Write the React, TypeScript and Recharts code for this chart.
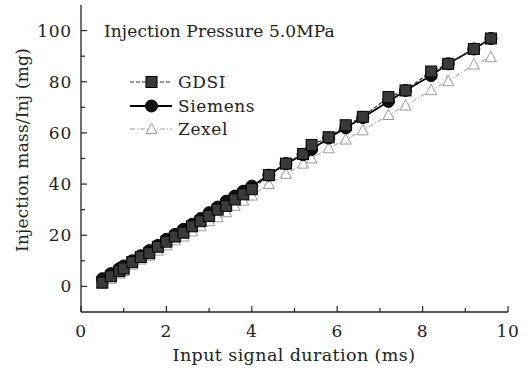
import React from 'react';
import { LineChart, Line, XAxis, YAxis } from 'recharts';

const durations = [0.5, 0.7, 0.9, 1.0, 1.2, 1.4, 1.6, 1.8, 2.0, 2.2, 2.4, 2.6, 2.8, 3.0, 3.2, 3.4, 3.6, 3.8, 4.0, 4.4, 4.8, 5.2, 5.4, 5.8, 6.2, 6.6, 7.2, 7.6, 8.2, 8.6, 9.2, 9.6];
const gdsi = [1.5, 4, 6, 7, 9.5, 11.5, 13, 15.5, 17.5, 19.5, 21, 23.5, 25.5, 27.5, 30, 31.5, 34, 36, 38, 43.5, 48, 51.8, 55.3, 58.3, 63, 66.3, 74, 76.6, 84, 87, 92.8, 96.9];
const siemens = [3, 5, 7, 8, 10, 12, 14, 16, 18.4, 20.3, 22.3, 24.3, 26.5, 28.8, 31, 33.3, 35.3, 37.2, 39.2, 43.5, 48, 51.5, 53.5, 58, 62, 66, 72.3, 76.6, 82.4, 87, 92.8, 96.9];
const zexel = [1, 3, 5, 6, 8.5, 10.5, 12, 14, 16, 18, 19.5, 21.5, 23.5, 25.5, 27, 29, 31.5, 33.5, 35.5, 40, 44, 48, 50, 54, 57.4, 61, 67, 70.7, 76.7, 80.2, 86.7, 89.6];

const xTicks = [0, 1, 2, 3, 4, 5, 6, 7, 8, 9, 10];
const yTicks = [0, 10, 20, 30, 40, 50, 60, 70, 80, 90, 100];
const seriesNames = ['GDSI', 'Siemens', 'Zexel'];

const data = durations.map((d, i) => ({ x: d, gdsi: gdsi[i], siemens: siemens[i], zexel: zexel[i] }));

const FONT = '"DejaVu Serif", serif';
const INK = '#222';

const XTick = (props: any) => {
  const { x, y, payload } = props;
  const v = payload.value;
  const major = v % 2 === 0;
  return (
    <g>
      <line x1={x} y1={y} x2={x} y2={y - (major ? 6 : 4)} stroke={INK} strokeWidth={1.2} />
      {major && (
        <text x={x} y={y + 25} textAnchor="middle" fontFamily={FONT} fontSize={17} letterSpacing={0.8} fill={INK}>
          {v}
        </text>
      )}
    </g>
  );
};

const YTick = (props: any) => {
  const { x, y, payload } = props;
  const v = payload.value;
  const major = v % 20 === 0;
  return (
    <g>
      <line x1={x} y1={y} x2={x + (major ? 6 : 4)} y2={y} stroke={INK} strokeWidth={1.2} />
      {major && (
        <text x={x - 9} y={y + 6} textAnchor="end" fontFamily={FONT} fontSize={17} letterSpacing={0.8} fill={INK}>
          {v}
        </text>
      )}
    </g>
  );
};

const SquareDot = (props: any) => {
  const { cx, cy, index } = props;
  if (cx == null || cy == null) return <g key={index} />;
  return <rect key={index} x={cx - 5.5} y={cy - 5.5} width={11} height={11} fill="#3a3a3a" stroke="#000" strokeWidth={1} />;
};

const TriDot = (props: any) => {
  const { cx, cy, index } = props;
  if (cx == null || cy == null) return <g key={index} />;
  return (
    <polygon
      key={index}
      points={`${cx},${cy - 6} ${cx - 5.5},${cy + 4.5} ${cx + 5.5},${cy + 4.5}`}
      fill="#fff"
      stroke="#9a9a9a"
      strokeWidth={1}
    />
  );
};

const LegendBox = () => (
  <svg width={150} height={80} style={{ position: 'absolute', left: 128, top: 70, overflow: 'visible' }}>
    <g>
      <line x1={2} y1={12} x2={44} y2={12} stroke="#333" strokeWidth={1.2} strokeDasharray="4 2" />
      <rect x={18} y={6.5} width={11} height={11} fill="#3a3a3a" stroke="#000" />
      <text x={50} y={18} fontFamily={FONT} fontSize={17} letterSpacing={0.6} fill={INK}>{seriesNames[0]}</text>
    </g>
    <g>
      <line x1={2} y1={36} x2={44} y2={36} stroke="#000" strokeWidth={1.8} />
      <circle cx={23.5} cy={36} r={6} fill="#111" stroke="#000" />
      <text x={50} y={42} fontFamily={FONT} fontSize={17} letterSpacing={0.6} fill={INK}>{seriesNames[1]}</text>
    </g>
    <g>
      <line x1={2} y1={59} x2={44} y2={59} stroke="#9a9a9a" strokeWidth={1} strokeDasharray="5 2 1 2" />
      <polygon points="23.5,53 18,63.5 29,63.5" fill="#fff" stroke="#9a9a9a" />
      <text x={50} y={65} fontFamily={FONT} fontSize={17} letterSpacing={0.6} fill={INK}>{seriesNames[2]}</text>
    </g>
  </svg>
);

export default function App() {
  return (
    <div style={{ position: 'absolute', left: 0, top: 0, width: 528, height: 370, background: '#fff' }}>
      <LineChart width={528} height={370} data={data} margin={{ top: 5, right: 20, bottom: 0, left: 0 }}>
        <XAxis
          xAxisId="b"
          dataKey="x"
          type="number"
          domain={[0, 10]}
          ticks={xTicks}
          interval={0}
          tickSize={0}
          tickMargin={0}
          tickLine={false}
          tick={<XTick />}
          height={58}
          axisLine={{ stroke: INK, strokeWidth: 1.3 }}
          allowDataOverflow
        />
        <XAxis
          xAxisId="t"
          dataKey="x"
          type="number"
          orientation="top"
          domain={[0, 10]}
          height={0}
          tick={false}
          tickLine={false}
          axisLine={{ stroke: '#555', strokeWidth: 1 }}
        />
        <YAxis
          yAxisId="l"
          type="number"
          domain={[-10, 110]}
          ticks={yTicks}
          interval={0}
          tickSize={0}
          tickMargin={0}
          tickLine={false}
          tick={<YTick />}
          width={81}
          axisLine={{ stroke: INK, strokeWidth: 1.3 }}
          allowDataOverflow
        />
        <YAxis
          yAxisId="r"
          orientation="right"
          type="number"
          domain={[-10, 110]}
          width={0}
          tick={false}
          tickLine={false}
          axisLine={{ stroke: '#444', strokeWidth: 1 }}
        />
        <Line
          xAxisId="b"
          yAxisId="l"
          dataKey="zexel"
          name="Zexel"
          stroke="#9a9a9a"
          strokeWidth={1}
          strokeDasharray="5 2 1 2"
          dot={<TriDot />}
          isAnimationActive={false}
        />
        <Line
          xAxisId="b"
          yAxisId="l"
          dataKey="siemens"
          name="Siemens"
          stroke="#000"
          strokeWidth={1.8}
          dot={{ r: 6, fill: '#111', stroke: '#000', strokeWidth: 1 }}
          isAnimationActive={false}
        />
        <Line
          xAxisId="b"
          yAxisId="l"
          dataKey="gdsi"
          name="GDSI"
          stroke="#333"
          strokeWidth={1.2}
          strokeDasharray="4 2"
          dot={<SquareDot />}
          isAnimationActive={false}
        />
      </LineChart>
      <LegendBox />
      <div style={{ position: 'absolute', left: 104, top: 21, fontFamily: FONT, fontSize: 17, letterSpacing: 0.1, color: INK, whiteSpace: 'nowrap', lineHeight: '20px' }}>
        Injection Pressure 5.0MPa
      </div>
      <div style={{ position: 'absolute', left: 0, width: 588, top: 344, textAlign: 'center', fontFamily: FONT, fontSize: 17.5, letterSpacing: 0.4, color: INK, whiteSpace: 'nowrap', lineHeight: '22px' }}>
        Input signal duration (ms)
      </div>
      <div style={{ position: 'absolute', left: 22, top: 150, width: 0, height: 0, whiteSpace: 'nowrap' }}>
        <div style={{ position: 'absolute', transform: 'translate(-50%, -50%) rotate(-90deg)', fontFamily: FONT, fontSize: 17, letterSpacing: 0.2, color: INK, lineHeight: '22px' }}>
          Injection mass/Inj (mg)
        </div>
      </div>
    </div>
  );
}
